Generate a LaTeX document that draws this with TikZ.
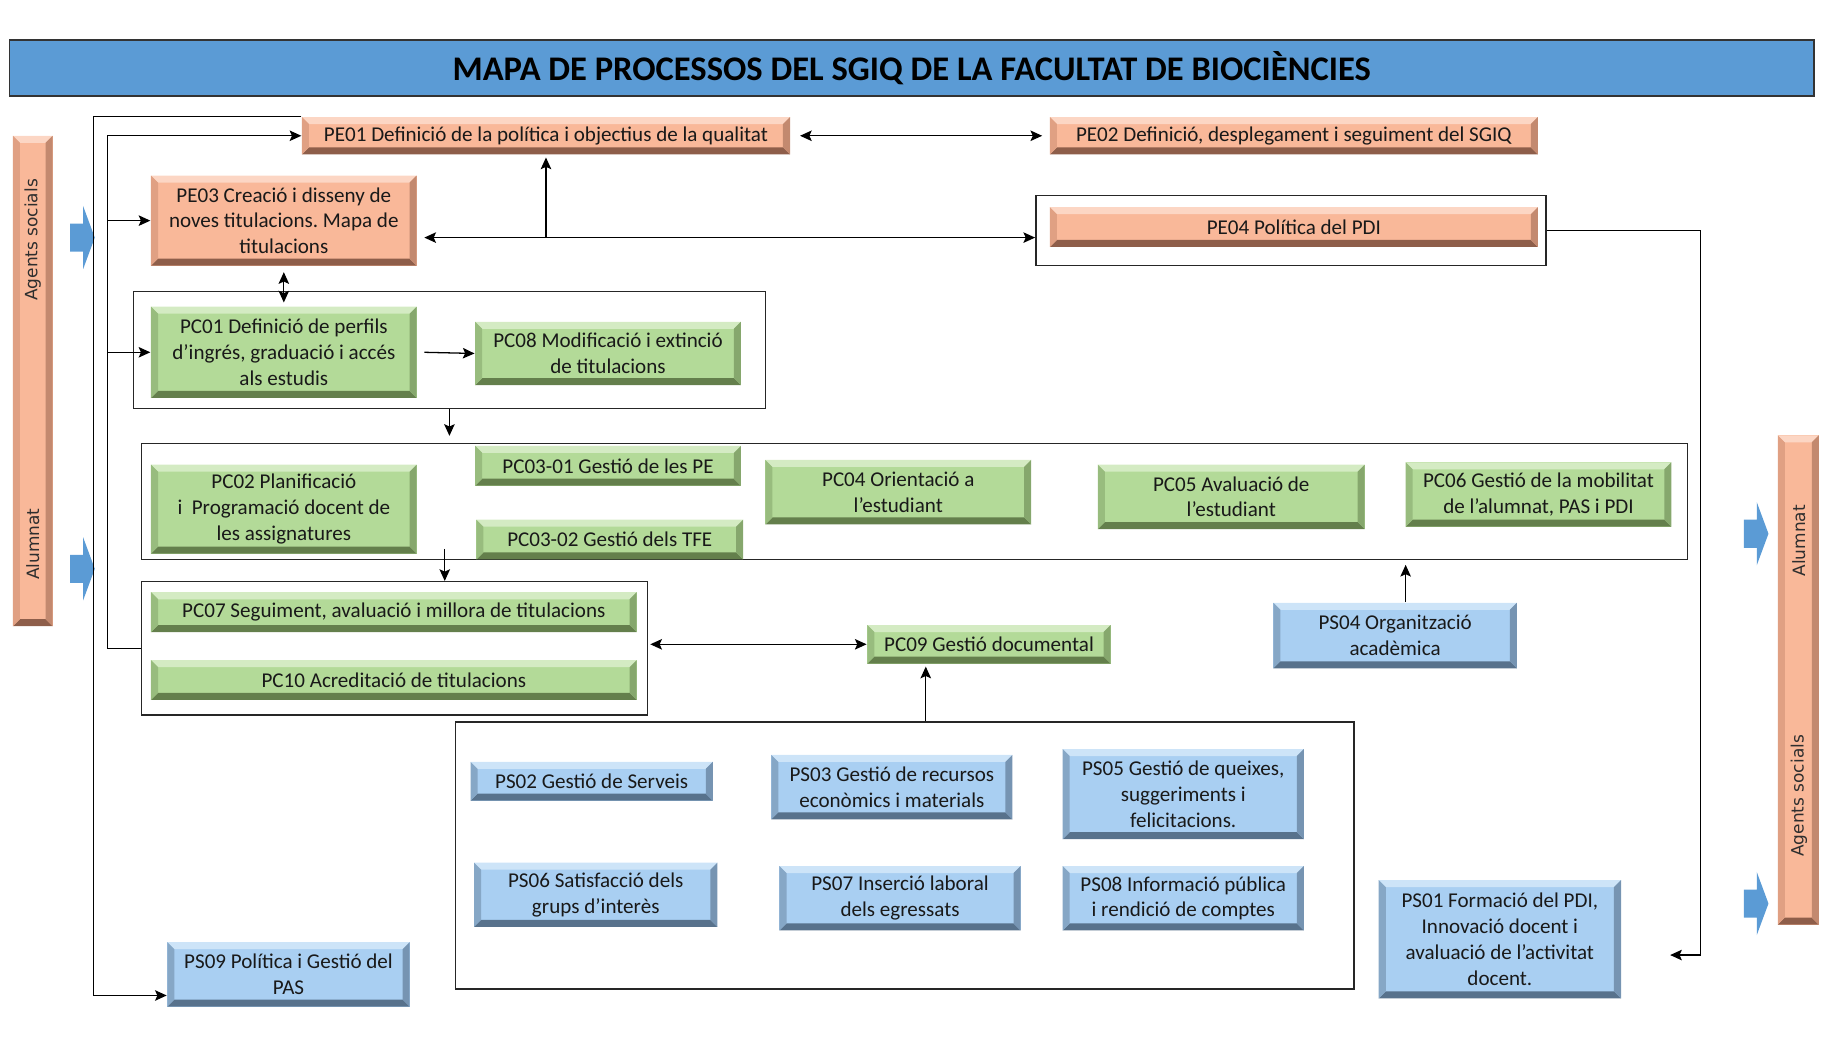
\documentclass[tikz,border=0pt]{standalone}
\usepackage{fontspec}
\setmainfont{Carlito}
\newfontfamily\sidefont{DejaVu Sans}
\usetikzlibrary{arrows.meta,calc}
\frenchspacing
\definecolor{peM}{HTML}{F9B899}
\definecolor{peL}{HTML}{FCD6C4}
\definecolor{peD}{HTML}{8E5E4A}
\definecolor{peS}{HTML}{E0A083}
\definecolor{grM}{HTML}{B3DA98}
\definecolor{grL}{HTML}{D4EBC3}
\definecolor{grD}{HTML}{647F4C}
\definecolor{grS}{HTML}{98BC7E}
\definecolor{blM}{HTML}{A9CFF2}
\definecolor{blL}{HTML}{CDE4F8}
\definecolor{blD}{HTML}{58728C}
\definecolor{blS}{HTML}{86A7C6}
\definecolor{titleblue}{HTML}{5B9BD5}
\definecolor{arrblue}{HTML}{5B9BD5}
\def\bw{6pt}
\tikzset{
  bev/.style n args={4}{fill=#1, draw=none, inner sep=0pt, align=center,
    font=\fontsize{18}{22}\selectfont, text=black!90,
    path picture={
      \path (path picture bounding box.north west) coordinate (bNW)
            (path picture bounding box.north east) coordinate (bNE)
            (path picture bounding box.south west) coordinate (bSW)
            (path picture bounding box.south east) coordinate (bSE);
      \fill[#2] (bNW) -- (bNE) -- ([xshift=-\bw,yshift=-\bw]bNE) -- ([xshift=\bw,yshift=-\bw]bNW) -- cycle;
      \fill[#3] (bSW) -- (bSE) -- ([xshift=-\bw,yshift=\bw]bSE) -- ([xshift=\bw,yshift=\bw]bSW) -- cycle;
      \fill[#4] (bNW) -- ([xshift=\bw,yshift=-\bw]bNW) -- ([xshift=\bw,yshift=\bw]bSW) -- (bSW) -- cycle;
      \fill[#4!65!#3] (bNE) -- ([xshift=-\bw,yshift=-\bw]bNE) -- ([xshift=-\bw,yshift=\bw]bSE) -- (bSE) -- cycle;
    }},
  pe/.style={bev={peM}{peL}{peD}{peS}},
  gr/.style={bev={grM}{grL}{grD}{grS}},
  bl/.style={bev={blM}{blL}{blD}{blS}},
  frame/.style={draw=black!85, line width=1.2pt, inner sep=0pt, fill=none},
  titlebar/.style={fill=titleblue, draw=black!80, line width=1.3pt, inner sep=0pt,
    font=\fontsize{29.5}{34}\selectfont\bfseries},
  sidetxt/.style={font=\sidefont\fontsize{14.5}{17}\selectfont, text=black!82, rotate=90, inner sep=0pt},
  tip/.tip={Stealth[length=10pt,width=9pt,inset=2pt]},
  arr/.style={-tip},
  darr/.style={tip-tip},
}
% \bx{style}{name}{x1}{y1}{x2}{y2}{text}
\newcommand\bx[7]{%
  \pgfmathsetmacro\bxw{#5-#3}\pgfmathsetmacro\bxh{#6-#4}%
  \pgfmathsetmacro\bxcx{(#3+#5)/2}\pgfmathsetmacro\bxcy{(#4+#6)/2}%
  \node[#1, minimum width=\bxw pt, minimum height=\bxh pt] (#2) at (\bxcx,\bxcy) {#7};}
\newcommand\blockarrow[2]{\fill[arrblue] (#1,#2) ++(0,-12) -- ++(11,0) -- ++(0,-15) -- ++(10,27) -- ++(-10,27) -- ++(0,-15) -- ++(-11,0) -- cycle;}
\begin{document}
\begin{tikzpicture}[x=1pt,y=-1pt,line width=1.1pt]
\useasboundingbox (0,0) rectangle (1567,900.6);
% title
\bx{titlebar}{T}{8}{34}{1550}{82}{MAPA DE PROCESSOS DEL SGIQ DE LA FACULTAT DE BIOCIÈNCIES}
% side bars
\bx{pe}{LB}{11}{116}{45}{535}{}
\node[sidetxt] (LB1) at (28,205) {Agents socials};
\node[sidetxt] (LB2) at (28,465) {Alumnat};
\bx{pe}{RB}{1519}{372}{1554}{790}{}
\node[sidetxt] (RB1) at (1537,462) {Alumnat};
\node[sidetxt] (RB2) at (1537,680) {Agents socials};
\blockarrow{60}{203}
\blockarrow{60}{486}
\blockarrow{1490}{456}
\blockarrow{1490}{772}
% frames
\bx{frame}{FPE4}{885}{167}{1321}{227}{}
\bx{frame}{F1}{114}{249}{654}{349}{}
\bx{frame}{F2}{121}{379}{1442}{478}{}
\bx{frame}{F3}{121}{497}{553}{611}{}
\bx{frame}{F4}{389}{617}{1157}{845}{}
% strategic
\bx{pe}{PE01}{258}{100}{675}{132}{PE01 Definició de la política i objectius de la qualitat}
\bx{pe}{PE02}{897}{100}{1314}{132}{PE02 Definició, desplegament i seguiment del SGIQ}
\bx{pe}{PE03}{129}{150}{356}{227}{PE03 Creació i disseny de\\noves titulacions. Mapa de\\titulacions}
\bx{pe}{PE04}{897}{177}{1314}{211}{PE04 Política del PDI}
% key
\bx{gr}{PC01}{129}{262}{356}{340}{PC01 Definició de perfils\\d’ingrés, graduació i accés\\als estudis}
\bx{gr}{PC08}{406}{275}{633}{329}{PC08 Modificació i extinció\\de titulacions}
\bx{gr}{PC02}{129}{397}{356}{473}{PC02 Planificació\\i\ \ Programació docent de\\les assignatures}
\bx{gr}{PC0301}{406}{381}{633}{415}{PC03-01 Gestió de les PE}
\bx{gr}{PC0302}{407}{444}{635}{478}{PC03-02 Gestió dels TFE}
\bx{gr}{PC04}{654}{393}{881}{448}{PC04 Orientació a\\l’estudiant}
\bx{gr}{PC05}{938}{397}{1166}{452}{PC05 Avaluació de\\l’estudiant}
\bx{gr}{PC06}{1201}{395}{1428}{450}{PC06 Gestió de la mobilitat\\de l’alumnat, PAS i PDI}
\bx{gr}{PC07}{129}{506}{544}{540}{PC07 Seguiment, avaluació i millora de titulacions}
\bx{gr}{PC10}{129}{564}{544}{598}{PC10 Acreditació de titulacions}
\bx{gr}{PC09}{741}{534}{949}{567}{PC09 Gestió documental}
% support
\bx{bl}{PS04}{1088}{515}{1296}{571}{PS04 Organització\\acadèmica}
\bx{bl}{PS02}{402}{651}{609}{684}{PS02 Gestió de Serveis}
\bx{bl}{PS03}{659}{645}{865}{700}{PS03 Gestió de recursos\\econòmics i materials}
\bx{bl}{PS05}{908}{640}{1114}{717}{PS05 Gestió de queixes,\\suggeriments i\\felicitacions.}
\bx{bl}{PS06}{405}{737}{613}{792}{PS06 Satisfacció dels\\grups d’interès}
\bx{bl}{PS07}{666}{740}{872}{795}{PS07 Inserció laboral\\dels egressats}
\bx{bl}{PS08}{908}{740}{1114}{795}{PS08 Informació pública\\i rendició de comptes}
\bx{bl}{PS01}{1178}{752}{1385}{853}{PS01 Formació del PDI,\\Innovació docent i\\avaluació de l’activitat\\docent.}
\bx{bl}{PS09}{143}{805}{350}{860}{PS09 Política i Gestió del\\PAS}
% connectors
\coordinate (L1) at (80,0);
\draw[arr] (PE01.north west) -- (PE01.north west -| L1) |- ([yshift=10pt]PS09.south west);
\coordinate (L2) at (92,116);
\draw[arr] (F3.west) -| (L2) -- (PE01.west);
\draw[arr] (L2 |- PE03.west) -- (PE03.west);
\draw[arr] (L2 |- PC01.west) -- (PC01.west);
\draw[darr] ([xshift=8pt]PE01.east) -- ([xshift=-6pt]PE02.west);
\coordinate (y203) at (0,203);
\coordinate (H) at (PE01.south |- y203);
\draw[darr] ([xshift=6pt]PE03.east |- H) -- (FPE4.west |- H);
\draw[arr] (H) -- ([yshift=-2pt]PE01.south);
\draw[darr] ([yshift=-5pt]PE03.south) -- ([yshift=3pt]PC01.north);
\draw[arr] ([xshift=6pt]PC01.east) -- (PC08.west);
\draw[arr] (F1.south) -- ([yshift=6pt]F1.south |- F2.north);
\coordinate (V2) at (380,469);
\draw[arr] (V2) -- (V2 |- F3.north);
\draw[darr] ([xshift=2pt]F3.east |- PC09.west) -- (PC09.west);
\coordinate (V3) at (791,0);
\draw[arr] (F4.north -| V3) -- ([yshift=-2pt]PC09.south -| V3);
\coordinate (V4) at (1201,0);
\draw[arr] (PS04.north -| V4) -- ([yshift=-4pt]F2.south -| V4);
\coordinate (R1) at (1453,197);
\coordinate (R2) at (1427,816);
\draw[arr] (FPE4.east) -- (R1) |- (R2);
\end{tikzpicture}
\end{document}
